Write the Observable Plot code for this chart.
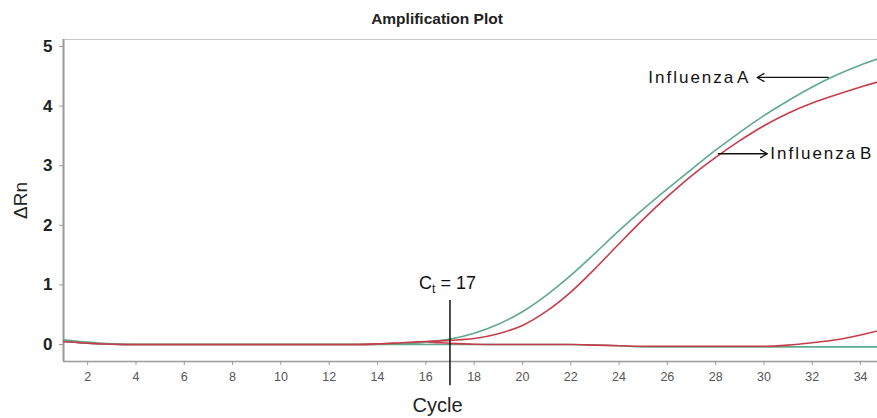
<!DOCTYPE html>
<html>
<head>
<meta charset="utf-8">
<script src="https://cdn.jsdelivr.net/npm/d3@7"></script>
<script src="https://cdn.jsdelivr.net/npm/@observablehq/plot@0.6"></script>
<style>
  html, body { margin: 0; padding: 0; background: #fff; overflow: hidden; }
  body { font-family: "Liberation Sans", Arial, sans-serif; }
  #title { width: 874px; height: 32px; line-height: 37px; text-align: center;
           font-size: 15.5px; font-weight: bold; color: #222; }
</style>
</head>
<body>
<div id="title">Amplification Plot</div>
<div id="chart"></div>
<script>
// ---- data ----
const cycles = d3.range(1, 36); // 1..35
const fluA = [0.06,0.02,0.005,0,0,0,0,0,0,0,0,0,0,0.005,0.015,0.04,0.09,0.19,0.34,0.55,0.83,1.16,1.53,1.91,2.27,2.61,2.94,3.26,3.56,3.84,4.09,4.32,4.52,4.69,4.83];
const fluB = [0.05,0.02,0.005,0,0,0,0,0,0,0,0,0,0,0.01,0.03,0.05,0.07,0.1,0.18,0.32,0.56,0.88,1.27,1.69,2.1,2.48,2.83,3.14,3.42,3.67,3.88,4.05,4.19,4.32,4.44];
const ctrlRed = [0.05,0.02,0.005,0,0,0,0,0,0,0,0,0,0,0.005,0.02,0.04,0.02,0.005,0,0,0,0,-0.01,-0.02,-0.03,-0.03,-0.03,-0.03,-0.03,-0.03,-0.01,0.03,0.08,0.16,0.26];
const ctrlGreen = [0.08,0.04,0.01,0,0,0,0,0,0,0,0,0,0,0,0,0,0,0,0,0,0,0,-0.01,-0.02,-0.04,-0.04,-0.04,-0.04,-0.04,-0.04,-0.04,-0.04,-0.04,-0.04,-0.04];
const xTicks = [2,4,6,8,10,12,14,16,18,20,22,24,26,28,30,32,34];
const yTicks = [0,1,2,3,4,5];
const ctCycle = 17;
const ctLabel = "Ct = 17";
const labelA = "Influenza A";
const labelB = "Influenza B";
const arrowA = [{x1: 32.66, x2: 29.72, y: 4.48}];
const arrowB = [{x1: 28.11, x2: 30.14, y: 3.2}];
const textA = [{x: 25.21, y: 4.48, t: labelA}];
const textB = [{x: 30.26, y: 3.2, t: labelB}];

const GREEN = "#5fa98f";
const RED = "#c63d49";

const rows = (vals) => cycles.map((c, i) => ({cycle: c, value: vals[i]}));

const yMin = -0.285, yMax = 5.117;

const chart = Plot.plot({
  width: 877,
  height: 386,
  marginLeft: 63,
  marginRight: 0,
  marginTop: 7,
  marginBottom: 57,
  style: {fontFamily: "'Liberation Sans', Arial, sans-serif", color: "#222", background: "white", overflow: "hidden"},
  x: {domain: [1, 34.7]},
  y: {domain: [yMin, yMax]},
  marks: [
    Plot.ruleY([yMax], {stroke: "#c8c8c8", strokeWidth: 1}),
    Plot.ruleY([yMin], {stroke: "#9a9a9a", strokeWidth: 1.5}),
    Plot.ruleX([1], {stroke: "#9a9a9a", strokeWidth: 2}),
    Plot.axisY({ticks: yTicks, tickFormat: "d", tickSize: 4, tickPadding: 7, fontSize: 17, fontWeight: "bold", stroke: "#9a9a9a", fill: "#222", label: null}),
    Plot.axisX({ticks: xTicks, tickFormat: "d", tickSize: 4, tickPadding: 7, fontSize: 12.5, stroke: "#9a9a9a", fill: "#555", label: null}),
    Plot.line(rows(ctrlGreen), {x: "cycle", y: "value", stroke: GREEN, strokeWidth: 1.6, curve: "monotone-x", clip: true}),
    Plot.line(rows(ctrlRed), {x: "cycle", y: "value", stroke: RED, strokeWidth: 1.6, curve: "monotone-x", clip: true}),
    Plot.line(rows(fluA), {x: "cycle", y: "value", stroke: GREEN, strokeWidth: 1.6, curve: "monotone-x", clip: true}),
    Plot.line(rows(fluB), {x: "cycle", y: "value", stroke: RED, strokeWidth: 1.6, curve: "monotone-x", clip: true}),
    Plot.ruleX([ctCycle], {y1: 0.74, y2: -0.69, stroke: "#111", strokeWidth: 1.5}),
    Plot.text([ctLabel], {x: ctCycle - 0.1, y: 1.02, text: d => d, fontSize: 18, fill: "#111", textAnchor: "middle"}),
    Plot.arrow(arrowA, {x1: "x1", x2: "x2", y1: "y", y2: "y", stroke: "#111", strokeWidth: 1.3, headLength: 9}),
    Plot.arrow(arrowB, {x1: "x1", x2: "x2", y1: "y", y2: "y", stroke: "#111", strokeWidth: 1.3, headLength: 9}),
    Plot.text(textA, {x: "x", y: "y", text: "t", fontSize: 17, fill: "#111", textAnchor: "start"}),
    Plot.text(textB, {x: "x", y: "y", text: "t", fontSize: 17, fill: "#111", textAnchor: "start"}),
    Plot.text(["ΔRn"], {frameAnchor: "left", dx: -43, rotate: -90, text: d => d, fontSize: 19, fill: "#222", textAnchor: "middle"}),
    Plot.text(["Cycle"], {frameAnchor: "bottom", dx: -33, dy: 50, text: d => d, fontSize: 20, fill: "#222", textAnchor: "middle"})
  ]
});

// typographic touches: letter spacing for the annotations, subscript t in Ct
d3.select(chart).selectAll("text").each(function() {
  const s = d3.select(this);
  const t = this.textContent;
  if (t === labelA || t === labelB) {
    s.style("letter-spacing", "2px").style("word-spacing", "-4px");
  } else if (t === ctLabel) {
    s.text(null);
    s.append("tspan").text("C");
    s.append("tspan").attr("font-size", "12px").attr("dy", "4").text("t");
    s.append("tspan").attr("dy", "-4").text(" = 17");
  }
});

document.getElementById("chart").appendChild(chart);
</script>
</body>
</html>
